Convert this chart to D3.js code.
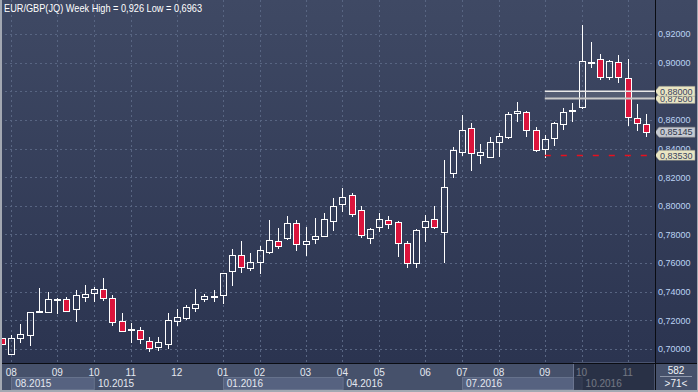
<!DOCTYPE html>
<html>
<head>
<meta charset="utf-8">
<script src="https://cdn.jsdelivr.net/npm/d3@7"></script>
<style>
  body { margin: 0; background: #3a4560; }
  svg { display: block; font-family: "Liberation Sans", Arial, sans-serif; }
</style>
</head>
<body>
<svg id="chart" width="698" height="392"></svg>
<script>
// weekly EUR/GBP candles, one entry per visible bar (71 bars)
var opens  = [0.7075,0.6968,0.7075,0.7096,0.7258,0.7260,0.7340,0.7347,0.7277,0.7361,
              0.7389,0.7417,0.7354,0.7195,0.7137,0.7133,0.7056,0.7012,0.7037,0.7198,
              0.7219,0.7284,0.7347,0.7363,0.7377,0.7547,0.7656,0.7563,0.7605,0.7679,
              0.7754,0.7773,0.7877,0.7731,0.7766,0.7791,0.7894,0.8010,0.8075,0.7968,
              0.7773,0.7850,0.7898,0.7887,0.7742,0.7598,0.7850,0.7905,0.7815,0.8226,
              0.8377,0.8541,0.8352,0.8342,0.8447,0.8482,0.8645,0.8652,0.8527,0.8394,
              0.8471,0.8569,0.8660,0.8687,0.8995,0.9023,0.8902,0.9002,0.8891,0.8615,
              0.8569];
var highs  = [0.7080,0.7098,0.7172,0.7258,0.7424,0.7400,0.7355,0.7361,0.7412,0.7447,
              0.7435,0.7494,0.7377,0.7253,0.7179,0.7151,0.7082,0.7082,0.7253,0.7279,
              0.7307,0.7417,0.7384,0.7412,0.7530,0.7698,0.7754,0.7668,0.7719,0.7901,
              0.7843,0.7931,0.7901,0.7850,0.7912,0.7947,0.8052,0.8122,0.8091,0.7998,
              0.7847,0.7951,0.7928,0.7894,0.7756,0.7836,0.7935,0.7998,0.8319,0.8412,
              0.8633,0.8576,0.8429,0.8478,0.8506,0.8657,0.8726,0.8664,0.8548,0.8494,
              0.8587,0.8680,0.8715,0.9260,0.9146,0.9060,0.9018,0.9053,0.9023,0.8708,
              0.8638];
var lows   = [0.7030,0.6963,0.7040,0.7023,0.7252,0.7258,0.7242,0.7258,0.7191,0.7330,
              0.7330,0.7337,0.7161,0.7117,0.7044,0.7035,0.6981,0.6988,0.7002,0.7161,
              0.7202,0.7260,0.7330,0.7328,0.7312,0.7442,0.7528,0.7547,0.7526,0.7661,
              0.7698,0.7761,0.7686,0.7651,0.7733,0.7789,0.7826,0.7958,0.7924,0.7777,
              0.7733,0.7815,0.7838,0.7644,0.7563,0.7568,0.7749,0.7838,0.7598,0.8192,
              0.8347,0.8243,0.8291,0.8331,0.8342,0.8466,0.8587,0.8482,0.8373,0.8331,
              0.8417,0.8529,0.8587,0.8673,0.8966,0.8879,0.8879,0.8856,0.8557,0.8524,
              0.8482];
var closes = [0.7035,0.7075,0.7102,0.7256,0.7265,0.7347,0.7350,0.7265,0.7377,0.7382,
              0.7417,0.7354,0.7191,0.7128,0.7141,0.7068,0.7005,0.7047,0.7200,0.7221,
              0.7291,0.7314,0.7368,0.7367,0.7528,0.7656,0.7570,0.7605,0.7689,0.7759,
              0.7721,0.7877,0.7731,0.7752,0.7787,0.7905,0.8000,0.8063,0.7940,0.7794,
              0.7836,0.7905,0.7871,0.7738,0.7598,0.7829,0.7894,0.7850,0.8129,0.8389,
              0.8529,0.8366,0.8373,0.8443,0.8485,0.8638,0.8661,0.8529,0.8387,0.8464,
              0.8576,0.8657,0.8666,0.9010,0.9005,0.8898,0.9010,0.8898,0.8623,0.8576,
              0.8514];

var monthLabels = ["08","09","10","11","12","01","02","03","04","05","06","07","08","09","10","11"];
var monthIdx    = [1,6,10,14,19,24,28,33,37,41,46,50,54,59,63,68];
var quarterLabels = ["08.2015","10.2015","01.2016","04.2016","07.2016","10.2016"];
var quarterIdx    = [1,10,24,37,50,63];
var yTicks = [0.70,0.72,0.74,0.76,0.78,0.80,0.82,0.84,0.86,0.88,0.90,0.92];

var bandLevels = [0.875, 0.88];     // two horizontal marker lines
var refLevel = 0.8353;              // red dashed level
var lastClose = 0.85145;
var bandStart = 59, refStart = 59;  // bar index where these lines begin
var titleText = "EUR/GBP(JQ) Week High = 0,926 Low = 0,6963";
var barCount = "582", visibleCount = ">71<";

var W = 698, H = 392, plotR = 655, plotB = 363;
var svg = d3.select("#chart");

var x = d3.scaleLinear().domain([0, 70]).range([2, 646]);
var y = d3.scaleLinear().domain([0.70, 0.92]).range([349, 34]);
var fmt = d3.formatLocale({decimal: ",", thousands: ".", grouping: [3], currency: ["", ""]}).format(".5f");
function px(v) { return Math.round(v) + 0.5; }

// background
var defs = svg.append("defs");
var grad = defs.append("linearGradient").attr("id", "bg").attr("x1", 0).attr("y1", 0).attr("x2", 0).attr("y2", 1);
grad.append("stop").attr("offset", "0%").attr("stop-color", "#3f4964");
grad.append("stop").attr("offset", "100%").attr("stop-color", "#2b3450");
svg.append("rect").attr("width", W).attr("height", plotB).attr("fill", "url(#bg)");

// grid
var grid = svg.append("g").attr("stroke", "#586582").attr("stroke-dasharray", "2,3").attr("stroke-width", 1);
grid.selectAll("line.h").data(yTicks).enter().append("line")
    .attr("x1", 0).attr("x2", plotR).attr("y1", function(d) { return px(y(d)); }).attr("y2", function(d) { return px(y(d)); });
grid.selectAll("line.v").data(monthIdx).enter().append("line")
    .attr("y1", 0).attr("y2", plotB).attr("x1", function(d) { return px(x(d)); }).attr("x2", function(d) { return px(x(d)); });

// candles
var bars = d3.range(opens.length).map(function(i) {
  return {i: i, o: opens[i], h: highs[i], l: lows[i], c: closes[i]};
});
var cg = svg.append("g");
bars.forEach(function(d) {
  var cx = Math.round(x(d.i));
  var top = Math.round(y(Math.max(d.o, d.c)));
  var bot = Math.round(y(Math.min(d.o, d.c)));
  if (bot - top < 1) bot = top + 1;
  var down = d.c < d.o;
  cg.append("line").attr("x1", cx + 0.5).attr("x2", cx + 0.5)
    .attr("y1", Math.round(y(d.h))).attr("y2", top).attr("stroke", "#fff");
  cg.append("line").attr("x1", cx + 0.5).attr("x2", cx + 0.5)
    .attr("y1", bot).attr("y2", Math.round(y(d.l))).attr("stroke", "#fff");
  cg.append("rect").attr("x", cx - 2.5).attr("y", top + 0.5)
    .attr("width", 6).attr("height", bot - top)
    .attr("fill", down ? "#dc143c" : "none").attr("stroke", "#fff").attr("stroke-width", 1);
});

// marker band
var bx = x(bandStart);
svg.append("rect").attr("x", bx).attr("y", y(bandLevels[1])).attr("width", plotR - bx)
   .attr("height", y(bandLevels[0]) - y(bandLevels[1])).attr("fill", "rgba(255,255,255,0.13)");
svg.append("line").attr("x1", bx).attr("x2", plotR).attr("y1", y(bandLevels[1])).attr("y2", y(bandLevels[1]))
   .attr("stroke", "#e8e8e8").attr("stroke-width", 1.5);
svg.append("line").attr("x1", bx).attr("x2", plotR).attr("y1", y(bandLevels[0])).attr("y2", y(bandLevels[0]))
   .attr("stroke", "#c8c8c8").attr("stroke-width", 2);
// red dashed level
svg.append("line").attr("x1", x(refStart)).attr("x2", plotR).attr("y1", px(y(refLevel))).attr("y2", px(y(refLevel)))
   .attr("stroke", "#e8101e").attr("stroke-width", 1.5).attr("stroke-dasharray", "6,10");

// price axis
var yAxis = d3.axisRight(y).tickValues(yTicks).tickSize(0).tickPadding(3).tickFormat(fmt);
var ag = svg.append("g").attr("transform", "translate(" + plotR + ",0)").call(yAxis);
ag.select(".domain").remove();
ag.selectAll("text").attr("fill", "#bcd4f4").attr("font-size", 9).attr("font-family", "'Liberation Sans', Arial, sans-serif");

// value tags
function tag(v, fill, txt) {
  var yy = y(v);
  svg.append("path")
     .attr("d", "M655," + yy + "L659," + (yy - 5) + "L695," + (yy - 5) + "L695," + (yy + 5) + "L659," + (yy + 5) + "Z")
     .attr("fill", fill).attr("stroke", "#8a8a80").attr("stroke-width", 0.5);
  svg.append("text").attr("x", 660).attr("y", yy + 3.3).attr("font-size", 9).attr("fill", txt).text(fmt(v));
}
tag(bandLevels[0], "#e9e5c3", "#3a4460");
tag(bandLevels[1], "#e9e5c3", "#3a4460");
tag(refLevel, "#e9e5c3", "#3a4460");
tag(lastClose, "#c5c9d2", "#2e3648");

// bottom time bar
svg.append("rect").attr("x", 0).attr("y", plotB).attr("width", W).attr("height", H - plotB).attr("fill", "#46516b");
var qg = svg.append("g");
quarterIdx.forEach(function(q, k) {
  var x0 = x(q), x1 = k + 1 < quarterIdx.length ? x(quarterIdx[k + 1]) : plotR;
  if (k % 2 === 0) {
    qg.append("rect").attr("x", px(x0)).attr("y", 377.5).attr("width", x1 - x0).attr("height", 12)
      .attr("fill", "#566280").attr("stroke", "#66728c");
  }
  qg.append("text").attr("x", x0 + 4).attr("y", 387).attr("font-size", 10).attr("fill", "#e4e8f0").text(quarterLabels[k]);
});
svg.append("g").selectAll("text").data(monthIdx).enter().append("text")
   .attr("x", function(d) { return x(d); }).attr("y", 376).attr("text-anchor", "middle")
   .attr("font-size", 10).attr("fill", "#e4e8f0").text(function(d, k) { return monthLabels[k]; });

// dimmed scroller region at the right end of the time bar
svg.append("rect").attr("x", 573.5).attr("y", plotB).attr("width", plotR - 573.5).attr("height", H - plotB - 1)
   .attr("fill", "rgba(18,24,40,0.55)").attr("stroke", "#6b7590").attr("stroke-width", 1);

// corner cell
svg.append("rect").attr("x", plotR).attr("y", plotB).attr("width", W - plotR).attr("height", H - plotB).attr("fill", "#46516b");
svg.append("text").attr("x", 676).attr("y", 374).attr("text-anchor", "middle").attr("font-size", 10).attr("fill", "#f0f2f6").text(barCount);
svg.append("line").attr("x1", 660).attr("x2", 692).attr("y1", 376.5).attr("y2", 376.5).attr("stroke", "#8e97aa");
svg.append("text").attr("x", 676).attr("y", 387).attr("text-anchor", "middle").attr("font-size", 10).attr("fill", "#f0f2f6").text(visibleCount);

// frame lines
svg.append("line").attr("x1", plotR + 0.5).attr("x2", plotR + 0.5).attr("y1", 0).attr("y2", H).attr("stroke", "#0a0c12");
svg.append("line").attr("x1", 0).attr("x2", W).attr("y1", plotB + 0.5).attr("y2", plotB + 0.5).attr("stroke", "#0a0c12");
svg.append("rect").attr("x", 0).attr("y", 0).attr("width", 2).attr("height", H).attr("fill", "#a3a8b2");
svg.append("rect").attr("x", 0).attr("y", H - 2).attr("width", W).attr("height", 2).attr("fill", "#a3a8b2");
svg.append("rect").attr("x", W - 1).attr("y", 0).attr("width", 1).attr("height", H).attr("fill", "#a3a8b2");

// title
svg.append("text").attr("x", 4).attr("y", 12).attr("font-size", 10.5).attr("textLength", 198)
   .attr("lengthAdjust", "spacingAndGlyphs").attr("fill", "#ffffff").text(titleText);
</script>
</body>
</html>
